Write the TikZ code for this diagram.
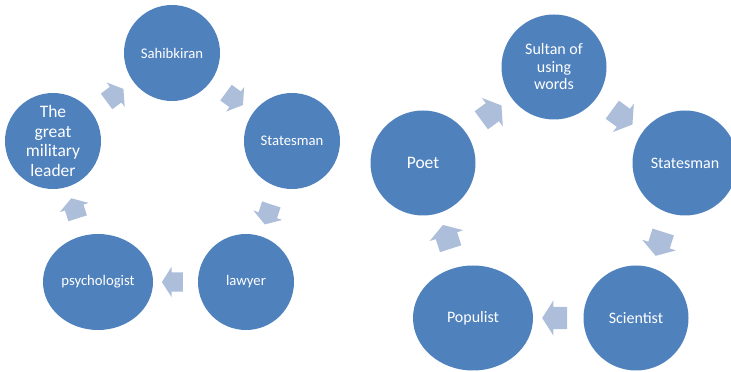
\documentclass[tikz,border=0pt]{standalone}
\usepackage{fontspec}
\setmainfont{Carlito}
\usetikzlibrary{shapes.geometric,shapes.arrows}
\definecolor{cyclefill}{RGB}{79,129,189}
\definecolor{flowfill}{RGB}{172,190,218}

\begin{document}
\begin{tikzpicture}[x=1pt, y=1pt,
  role/.style={circle, fill=cyclefill, text=white, inner sep=0pt, align=center, minimum size=96pt, font=\fontsize{14.7}{17}\selectfont},
  bigrole/.style={role, minimum size=105pt, font=\fontsize{16}{17.5}\selectfont},
  wide/.style={ellipse, fill=cyclefill, text=white, inner sep=0pt, align=center},
  flow/.style={single arrow, fill=flowfill, inner xsep=0pt, inner ysep=9.5pt, sloped, allow upside down, pos=0.5, minimum height=21pt, single arrow head extend=5.5pt, single arrow tip angle=115},
  bigflow/.style={flow, inner ysep=11pt, minimum height=25pt, single arrow head extend=6.5pt},
]
\clip (0,0) rectangle (731,372);

% === Left cycle ===
\node[role] (sahib) at (172,319) {Sahibkiran};
\node[role] (states) at (292,231) {Statesman};
\node[role] (lawyer) at (246,90) {lawyer};
\node[wide, minimum width=110pt, minimum height=96pt, font=\fontsize{14.7}{17}\selectfont] (psych) at (98,90) {psychologist};
\node[role, font=\fontsize{17.5}{19.5}\selectfont] (leader) at (53,231) {The\\great\\military\\leader};

\path (leader) -- node[flow] {} (sahib);
\path (sahib) -- node[flow] {} (states);
\path (states) -- node[flow] {} (lawyer);
\path (lawyer) -- node[flow] {} (psych);
\path (psych) -- node[flow] {} (leader);

% === Right cycle ===
\node[bigrole] (sultan) at (554,305) {Sultan of\\using\\words};
\node[bigrole] (statesr) at (685,209) {Statesman};
\node[bigrole] (scient) at (636,54) {Scientist};
\node[wide, minimum width=120pt, minimum height=105pt, font=\fontsize{16}{17.5}\selectfont] (popul) at (473,54) {Populist};
\node[bigrole, font=\fontsize{17.5}{21}\selectfont] (poet) at (423,209) {Poet};

\path (poet) -- node[bigflow] {} (sultan);
\path (sultan) -- node[bigflow] {} (statesr);
\path (statesr) -- node[bigflow] {} (scient);
\path (scient) -- node[bigflow] {} (popul);
\path (popul) -- node[bigflow] {} (poet);
\end{tikzpicture}
\end{document}
